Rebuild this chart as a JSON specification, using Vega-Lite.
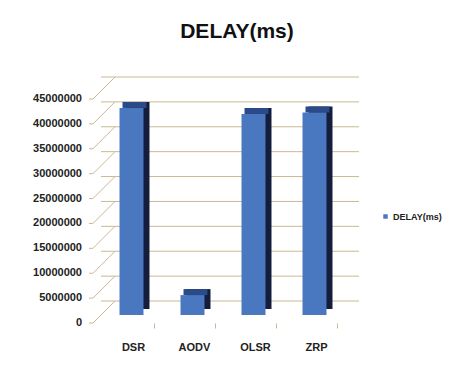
{
  "$schema": "https://vega.github.io/schema/vega-lite/v6.json",
  "autosize": "none",
  "width": 244,
  "height": 224,
  "padding": {"left": 101, "top": 91, "right": 107, "bottom": 55},
  "background": "white",
  "config": {"view": {"stroke": null}},
  "title": {
    "text": "DELAY(ms)",
    "font": "Liberation Sans, Arial, sans-serif",
    "fontSize": 21,
    "fontWeight": "bold",
    "color": "#111111",
    "anchor": "middle",
    "dx": 14,
    "offset": 35
  },
  "datasets": {
    "ticks": [
      {"v": 0}, {"v": 5000000}, {"v": 10000000}, {"v": 15000000}, {"v": 20000000},
      {"v": 25000000}, {"v": 30000000}, {"v": 35000000}, {"v": 40000000}, {"v": 45000000}
    ],
    "delay": [
      {"protocol": "DSR", "value": 41600000},
      {"protocol": "AODV", "value": 4000000},
      {"protocol": "OLSR", "value": 40400000},
      {"protocol": "ZRP", "value": 40700000}
    ]
  },
  "resolve": {"scale": {"x": "independent"}, "axis": {"x": "independent"}},
  "layer": [
    {
      "data": {"name": "ticks"},
      "mark": {"type": "rule", "color": "#c9b994", "strokeWidth": 1, "xOffset": 14, "x2Offset": 12, "yOffset": -14},
      "encoding": {
        "y": {"field": "v", "type": "quantitative", "scale": {"domain": [0, 45000000], "nice": false}, "axis": null}
      }
    },
    {
      "data": {"name": "ticks"},
      "mark": {"type": "text", "align": "right", "baseline": "middle", "xOffset": -19, "yOffset": 8, "font": "Liberation Sans, Arial, sans-serif", "fontSize": 11, "fontWeight": "bold", "color": "#222222"},
      "encoding": {
        "x": {"datum": 0, "type": "quantitative", "scale": {"domain": [0, 1], "nice": false, "zero": false}, "axis": null},
        "y": {"field": "v", "type": "quantitative", "axis": null},
        "text": {"field": "v", "type": "quantitative", "format": "d"}
      }
    },
    {
      "data": {"name": "ticks"},
      "mark": {"type": "rule", "color": "#c9b994", "strokeWidth": 1, "xOffset": -8, "x2Offset": 14, "yOffset": 8, "y2Offset": -14},
      "encoding": {
        "x": {"datum": 0, "type": "quantitative", "scale": {"domain": [0, 1], "nice": false, "zero": false}, "axis": null},
        "x2": {"datum": 0},
        "y": {"field": "v", "type": "quantitative", "axis": null},
        "y2": {"field": "v"}
      }
    },
    {
      "data": {"name": "ticks"},
      "mark": {"type": "rule", "color": "#c9b994", "strokeWidth": 1, "xOffset": -12, "x2Offset": -8, "yOffset": 8, "y2Offset": 8},
      "encoding": {
        "x": {"datum": 0, "type": "quantitative", "scale": {"domain": [0, 1], "nice": false, "zero": false}, "axis": null},
        "x2": {"datum": 0},
        "y": {"field": "v", "type": "quantitative", "axis": null},
        "y2": {"field": "v"}
      }
    },
    {
      "mark": {"type": "rule", "color": "#c9b994", "strokeWidth": 1, "xOffset": 14, "yOffset": -14, "y2Offset": -14},
      "encoding": {
        "x": {"datum": 0, "type": "quantitative", "scale": {"domain": [0, 1], "nice": false, "zero": false}, "axis": null},
        "y": {"datum": 0, "type": "quantitative", "axis": null},
        "y2": {"datum": 45000000}
      }
    },
    {
      "mark": {"type": "rule", "color": "#c9b994", "strokeWidth": 1, "xOffset": -8, "yOffset": 8, "y2Offset": 8},
      "encoding": {
        "x": {"datum": 0, "type": "quantitative", "scale": {"domain": [0, 1], "nice": false, "zero": false}, "axis": null},
        "y": {"datum": 0, "type": "quantitative", "axis": null},
        "y2": {"datum": 45000000}
      }
    },
    {
      "mark": {"type": "rule", "color": "#c9b994", "strokeWidth": 1, "xOffset": -8, "x2Offset": -8, "yOffset": 8, "y2Offset": 8},
      "encoding": {
        "x": {"datum": 0, "type": "quantitative", "scale": {"domain": [0, 1], "nice": false, "zero": false}, "axis": null},
        "x2": {"datum": 1},
        "y": {"datum": 0, "type": "quantitative", "axis": null},
        "y2": {"datum": 0}
      }
    },
    {
      "mark": {"type": "rule", "color": "#c9b994", "strokeWidth": 1, "xOffset": -8, "x2Offset": 12, "yOffset": 8, "y2Offset": -14},
      "encoding": {
        "x": {"datum": 1, "type": "quantitative", "scale": {"domain": [0, 1], "nice": false, "zero": false}, "axis": null},
        "x2": {"datum": 1},
        "y": {"datum": 0, "type": "quantitative", "axis": null},
        "y2": {"datum": 0}
      }
    },
    {
      "data": {"name": "delay"},
      "mark": {"type": "bar", "color": "#141d3c", "xOffset": 6, "yOffset": -6, "y2Offset": -6},
      "encoding": {
        "x": {
          "field": "protocol", "type": "nominal", "sort": null,
          "scale": {"paddingInner": 0.607, "paddingOuter": 0.3035},
          "axis": {
            "title": null, "labelAngle": 0, "domain": false, "offset": 8,
            "tickSize": 5, "tickColor": "#c9b994", "tickOffset": 22.5, "labelOffset": -21,
            "labelPadding": 13, "labelFont": "Liberation Sans, Arial, sans-serif",
            "labelFontSize": 11, "labelFontWeight": "bold", "labelColor": "#222222"
          }
        },
        "y": {"field": "value", "type": "quantitative", "axis": null}
      }
    },
    {
      "data": {"name": "delay"},
      "mark": {"type": "bar", "color": "#2b4a8a", "xOffset": 3, "yOffset": -6},
      "encoding": {
        "x": {"field": "protocol", "type": "nominal", "sort": null, "scale": {"paddingInner": 0.607, "paddingOuter": 0.3035}, "axis": null},
        "y": {"field": "value", "type": "quantitative", "axis": null},
        "y2": {"field": "value"}
      }
    },
    {
      "data": {"name": "delay"},
      "mark": {"type": "bar"},
      "encoding": {
        "x": {"field": "protocol", "type": "nominal", "sort": null, "scale": {"paddingInner": 0.607, "paddingOuter": 0.3035}, "axis": null},
        "y": {"field": "value", "type": "quantitative", "axis": null},
        "color": {
          "datum": "DELAY(ms)", "type": "nominal",
          "scale": {"range": ["#4a78c0"]},
          "legend": {
            "title": null, "orient": "none", "legendX": 280, "legendY": 121,
            "symbolType": "square", "symbolSize": 20, "symbolStrokeWidth": 0,
            "labelFont": "Liberation Sans, Arial, sans-serif",
            "labelFontSize": 9, "labelFontWeight": "bold", "labelColor": "#222222",
            "labelOffset": 3
          }
        }
      }
    }
  ]
}
